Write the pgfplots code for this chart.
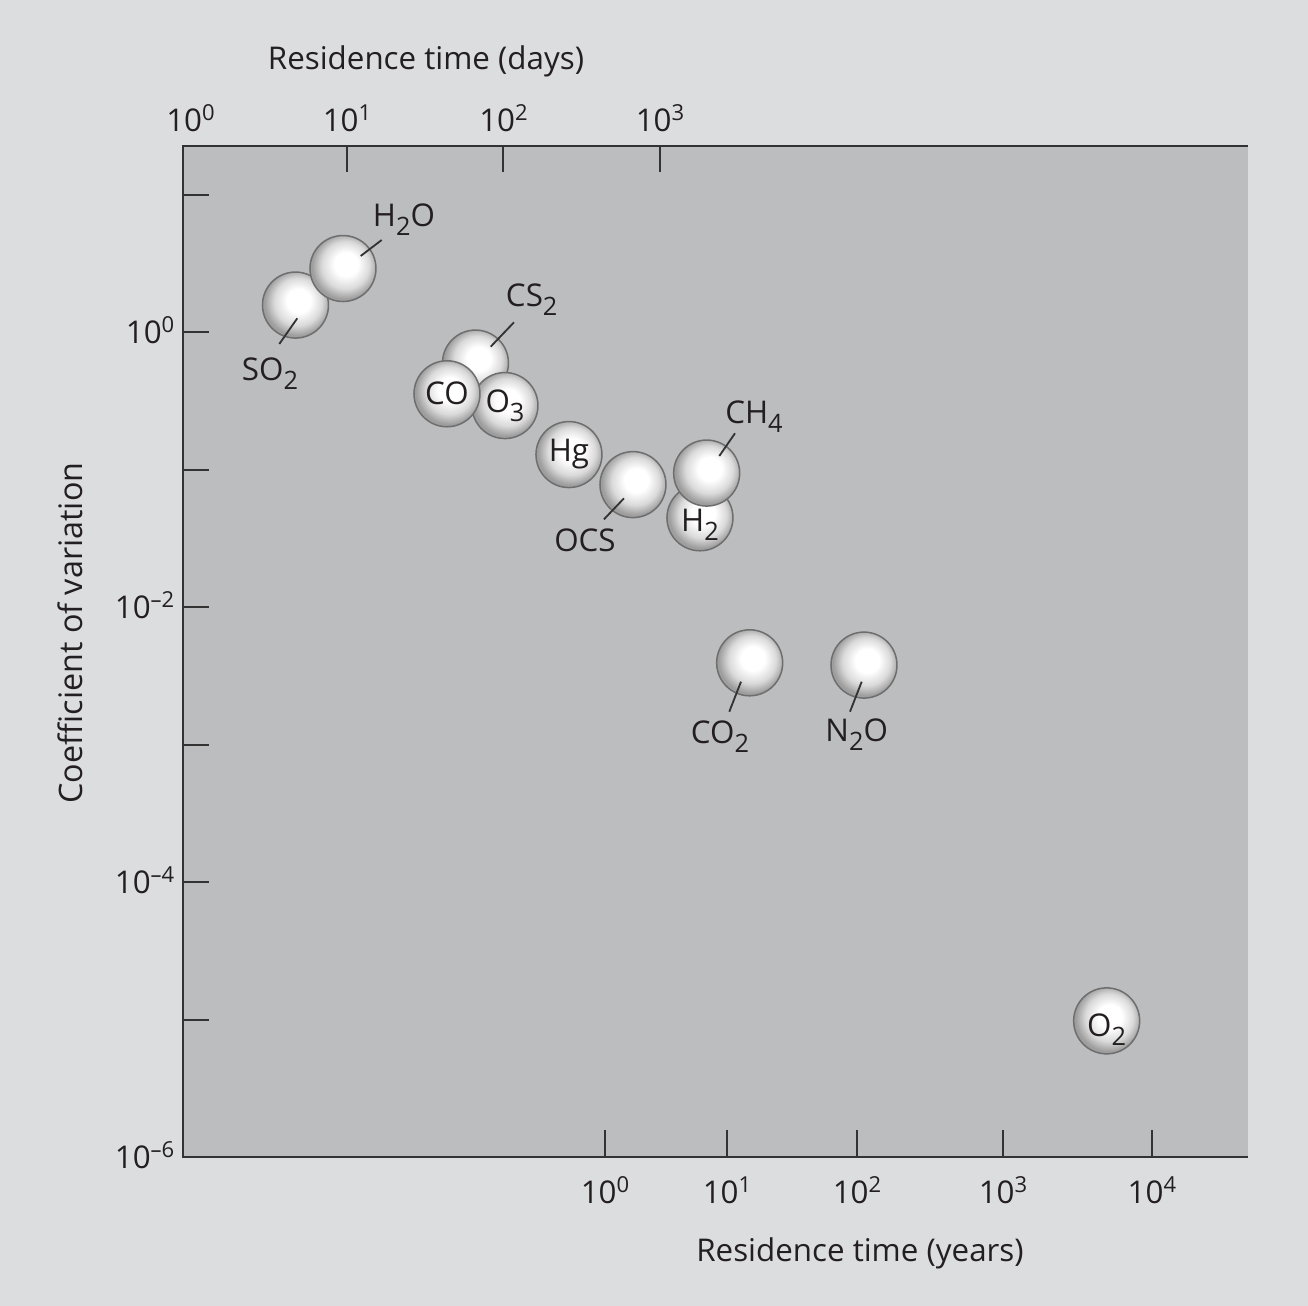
\documentclass[border=0pt]{standalone}
\usepackage{pgfplots}
\pgfplotsset{compat=1.18}
\usepackage{pgfplotstable}
\usepackage{fontspec}
\setmainfont{Open Sans}
\definecolor{bgc}{HTML}{DCDDDF}
\definecolor{plotc}{HTML}{BCBDBF}
\definecolor{axc}{HTML}{333333}
\definecolor{txtc}{HTML}{231F20}
\definecolor{bubedge}{HTML}{9E9E9E}
\definecolor{bubmid}{HTML}{DADADA}
\definecolor{bubline}{HTML}{6E6E6E}
\pgfdeclareradialshading{bubble}{\pgfpoint{3bp}{4bp}}{color(0bp)=(white); color(9bp)=(white); color(18bp)=(bubmid); color(25bp)=(bubedge); color(50bp)=(bubedge)}
\newcommand\tsup[1]{\raisebox{0.36em}{\fontsize{6.6pt}{7pt}\selectfont #1}}
\newcommand\chsub[1]{\raisebox{-0.28em}{\fontsize{7.6pt}{8pt}\selectfont #1}}
\tikzset{px/.style={x=0.3pt,y=-0.3pt,shift={(-54.9pt,347.25pt)}}}

% bubble centres: residence time (days), coefficient of variation, inner label
\pgfplotstableread{
x y label
4.687 1.579 \relax
9.428 2.911 \relax
66.23 0.5979 \relax
102.2 0.2935 O\chsub{3}
43.55 0.3576 CO
262.1 0.1292 Hg
672.3 0.07815 \relax
1801 0.04483 \rule{0pt}{10.8pt}H\chsub{2}
1988 0.09477 \relax
3743 0.003955 \relax
20120 0.003806 \relax
715000 9.85e-6 \rule{0pt}{12.2pt}O\chsub{2}
}\bubbles

\begin{document}
\fontsize{9.4pt}{11pt}\selectfont\color{txtc}%
\begin{tikzpicture}
\begin{scope}[px]
  \path[use as bounding box, fill=bgc] (0,0) rectangle (1308,1306);
\end{scope}
\begin{axis}[
  at={(0,0)}, anchor=south west,
  scale only axis, width=319.5pt, height=303.3pt,
  xmode=log, ymode=log,
  xmin=0.8956, xmax=5.72e6, ymin=1e-6, ymax=22.46,
  axis background/.style={fill=plotc},
  axis line style={draw=none},
  xtick={10,100,1000},
  xticklabels={10\tsup{1},10\tsup{2},10\tsup{3}},
  extra x ticks={1},
  extra x tick labels={10\tsup{0}},
  extra x tick style={major tick style={draw=none}},
  xtick pos=right, xticklabel pos=right,
  xminorticks=false,
  ytick={1e-6,1e-4,1e-2,1},
  yticklabels={10\tsup{–6},10\tsup{–4},10\tsup{–2},10\tsup{0}},
  minor ytick={1e-5,1e-3,1e-1,10},
  ytick pos=left, yticklabel pos=left,
  tick align=inside,
  major tick length=7.8pt, minor tick length=7.8pt,
  tick style={draw=axc, line width=0.6pt},
  xticklabel style={anchor=base, yshift=4.35pt, inner sep=0pt, text=txtc},
  yticklabel style={anchor=base east, yshift=-3.4pt, xshift=-2.4pt, inner sep=0pt, text=txtc},
  xlabel={Residence time (days)},
  xlabel style={at={(rel axis cs:0.2282,1.0757)}, anchor=base, inner sep=0pt},
  ylabel={Coefficient of variation},
  ylabel style={at={(rel axis cs:-0.1061,0.5188)}, anchor=center, inner sep=0pt, font=\fontsize{9.7pt}{11pt}\selectfont},
  clip=false,
]
\addplot[only marks, mark=*, mark size=0.5pt, mark options={draw=none,fill=none},
  point meta=explicit symbolic, nodes near coords,
  nodes near coords style={anchor=center, circle, inner sep=0pt, minimum size=19.8pt,
    shading=bubble, draw=bubline, line width=0.45pt, text=txtc}]
  table[x=x, y=y, meta=label]{\bubbles};
\end{axis}
\begin{axis}[
  at={(0,0)}, anchor=south west,
  scale only axis, width=319.5pt, height=303.3pt,
  xmode=log, xmin=0.8956, xmax=5.72e6, ymin=0, ymax=1,
  axis line style={draw=none},
  xtick={445.4,2680,18150,155500,1392000},
  xticklabels={10\tsup{0},10\tsup{1},10\tsup{2},10\tsup{3},10\tsup{4}},
  xtick pos=left, xticklabel pos=left, xminorticks=false,
  ytick=\empty,
  tick align=inside, major tick length=8.1pt,
  tick style={draw=axc, line width=0.6pt},
  xticklabel style={anchor=base, yshift=-13.95pt, inner sep=0pt, text=txtc},
  xlabel={Residence time (years)},
  xlabel style={at={(rel axis cs:0.6357,-0.1024)}, anchor=base, inner sep=0pt},
]
\end{axis}
\begin{scope}[px]
  \draw[axc, line width=0.6pt] (1248,146.5) -- (183,146.5) -- (183,1157.5) -- (1248,1157.5);
  \begin{scope}[draw=axc, line width=0.55pt]
    \draw (297.3,318.3) -- (279.3,344);
    \draw (360.7,256) -- (381.7,240);
    \draw (490.7,346.7) -- (514,322.3);
    \draw (624,498.3) -- (604,519.3);
    \draw (719.3,456) -- (735,433.3);
    \draw (741,681.7) -- (729.3,711.7);
    \draw (861.7,681.7) -- (850,711.7);
  \end{scope}
  \node[inner sep=0pt] at (270,373.6) {SO\chsub{2}};
  \node[inner sep=0pt] at (404,220) {H\chsub{2}O};
  \node[inner sep=0pt] at (531.7,299.5) {CS\chsub{2}};
  \node[inner sep=0pt] at (585,540.5) {OCS};
  \node[inner sep=0pt] at (754,416.7) {CH\chsub{4}};
  \node[inner sep=0pt] at (720,736.7) {CO\chsub{2}};
  \node[inner sep=0pt] at (856.7,735) {N\chsub{2}O};
\end{scope}
\end{tikzpicture}
\end{document}
